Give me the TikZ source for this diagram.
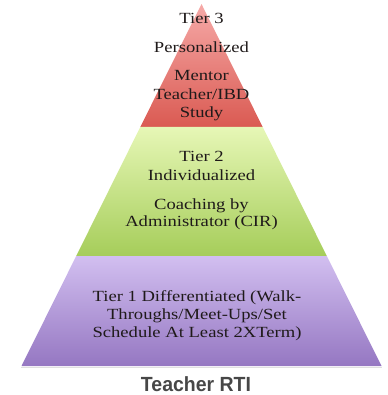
\documentclass[tikz,border=0pt]{standalone}
\usepackage{fontspec}
\setmainfont{Liberation Serif}
\newfontfamily\tierfont[FakeStretch=1.2]{Liberation Serif}
\newfontfamily\captionfont[FakeStretch=0.95]{Liberation Sans}
\definecolor{redtop}{HTML}{F6AAA8}
\definecolor{redbot}{HTML}{DA5A52}
\definecolor{greentop}{HTML}{E6F7B6}
\definecolor{greenbot}{HTML}{A6CD5A}
\definecolor{purpletop}{HTML}{D2BFF0}
\definecolor{purplebot}{HTML}{9577C2}
\definecolor{tiertext}{HTML}{1F1A1A}
\definecolor{captiontext}{HTML}{474747}
\begin{document}
\begin{tikzpicture}[x=1pt,y=-1pt,
  tierline/.style={anchor=base,inner sep=0pt,text=tiertext,
    font=\tierfont\fontsize{15.5}{19}\selectfont},
  captionline/.style={anchor=base,inner sep=0pt,text=captiontext,
    font=\captionfont\bfseries\fontsize{20.5}{24}\selectfont}]
\useasboundingbox (0,0) rectangle (387,395);
% corner points of the pyramid and its tier boundaries
\coordinate (apex) at (201.5,4);
\coordinate (r1) at (140.3,127);  \coordinate (r2) at (262.7,127);
\coordinate (g1) at (76.2,256);   \coordinate (g2) at (326.8,256);
\coordinate (p1) at (21.5,366);   \coordinate (p2) at (381.5,366);
% faint shadow along the base
\draw[line width=1.5pt,black!12] (21,367.5) -- (382,367.5);
% tiers
\shade[top color=redtop,bottom color=redbot] (apex) -- (r2) -- (r1) -- cycle;
\shade[top color=greentop,bottom color=greenbot] (r1) -- (r2) -- (g2) -- (g1) -- cycle;
\shade[top color=purpletop,bottom color=purplebot] (g1) -- (g2) -- (p2) -- (p1) -- cycle;
% tier 3 text
\node[tierline] (t3a) at (201.5,24) {Tier 3};
\node[tierline] (t3b) at (201.5,53) {Personalized};
\node[tierline] (t3c) at (201.5,81) {Mentor};
\node[tierline] (t3d) at (201.5,100) {Teacher/IBD};
\node[tierline] (t3e) at (201.5,118) {Study};
% tier 2 text
\node[tierline] (t2a) at (201.5,161) {Tier 2};
\node[tierline] (t2b) at (201.5,180.5) {Individualized};
\node[tierline] (t2c) at (201.5,209) {Coaching by};
\node[tierline] (t2d) at (201.5,226) {Administrator (CIR)};
% tier 1 text
\node[tierline] (t1a) at (197,301.5) {Tier 1 Differentiated (Walk-};
\node[tierline] (t1b) at (197,319.5) {Throughs/Meet-Ups/Set};
\node[tierline] (t1c) at (197,337.5) {Schedule At Least 2XTerm)};
% caption
\node[captionline] (cap) at (196,391.5) {Teacher RTI};
\end{tikzpicture}
\end{document}
